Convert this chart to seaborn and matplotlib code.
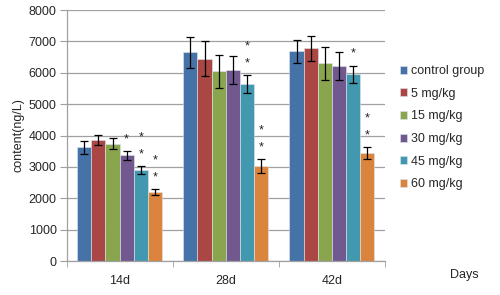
import numpy as np
import pandas as pd
import matplotlib
matplotlib.use("Agg")
import matplotlib.pyplot as plt
import seaborn as sns

# datos
days = ["14d", "28d", "42d"]
groups = ["control group", "5 mg/kg", "15 mg/kg", "30 mg/kg", "45 mg/kg", "60 mg/kg"]
colors = ["#4572A7", "#AA4643", "#89A54E", "#71588F", "#4198AF", "#DB843D"]

mean_14d = [3630, 3850, 3740, 3370, 2890, 2190]
mean_28d = [6650, 6450, 6050, 6100, 5630, 3035]
mean_42d = [6680, 6780, 6300, 6220, 5950, 3440]

err_14d = [210, 160, 180, 150, 130, 100]
err_28d = [500, 560, 525, 445, 285, 220]
err_42d = [380, 400, 520, 440, 280, 185]

# número de asteriscos sobre cada barra
stars_14d = [0, 0, 0, 1, 2, 2]
stars_28d = [0, 0, 0, 0, 2, 2]
stars_42d = [0, 0, 0, 0, 1, 2]

means = [mean_14d, mean_28d, mean_42d]
errs = [err_14d, err_28d, err_42d]
stars = [stars_14d, stars_28d, stars_42d]

rows = []
for d, m, e, s in zip(days, means, errs, stars):
    for g, mv, ev, sv in zip(groups, m, e, s):
        rows.append({"day": d, "group": g, "content": mv, "err": ev, "stars": sv})
df = pd.DataFrame(rows)

sns.set_style("white")
plt.rcParams["font.family"] = ["Liberation Sans", "DejaVu Sans"]

fig = plt.figure(figsize=(5, 2.95), dpi=100)
ax = fig.add_axes([0.133, 0.115, 0.637, 0.851])

sns.barplot(data=df, x="day", y="content", hue="group", hue_order=groups,
            palette=colors, errorbar=None, width=0.8, ax=ax,
            edgecolor="#dfe6ee", linewidth=0.4, saturation=1)

# barras de error y asteriscos
for cont, g in zip(ax.containers, groups):
    sub = df[df["group"] == g].set_index("day").loc[days]
    for bar, (_, r) in zip(cont, sub.iterrows()):
        xc = bar.get_x() + bar.get_width() / 2
        ax.errorbar(xc, r["content"], yerr=r["err"], fmt="none",
                    ecolor="black", elinewidth=0.9, capsize=2.8, capthick=0.9)
        top = r["content"] + r["err"]
        for k in range(int(r["stars"])):
            ax.text(xc, top + 180 + k * 550, "*", ha="center", va="bottom",
                    fontsize=9, color="#222222")

ax.set_ylim(0, 8000)
ax.set_xlim(-0.5, 2.5)
ax.set_yticks(np.arange(0, 8001, 1000))
ax.yaxis.grid(True, color="#a0a0a0", linewidth=0.9)
ax.set_axisbelow(True)
ax.set_xticks([0, 1, 2])
ax.set_xticklabels(days)
ax.set_xticks([-0.5, 0.5, 1.5, 2.5], minor=True)
ax.tick_params(axis="x", which="major", length=0, labelsize=9, pad=10)
ax.tick_params(axis="x", which="minor", length=4, color="#a0a0a0", direction="out", bottom=True)
ax.tick_params(axis="y", length=5, color="#a0a0a0", labelsize=9, left=True, direction="out", pad=2)

for side in ["top", "right"]:
    ax.spines[side].set_visible(False)
for side in ["left", "bottom"]:
    ax.spines[side].set_color("#a0a0a0")
    ax.spines[side].set_linewidth(0.9)

ax.set_xlabel("")
ax.set_ylabel("content(ng/L)", fontsize=9, labelpad=3)
fig.text(0.90, 0.068, "Days", fontsize=9, va="center")

leg = ax.legend(loc="upper left", bbox_to_anchor=(1.03, 0.80), frameon=False,
                fontsize=9, handlelength=0.6, handleheight=0.6, handletextpad=0.3,
                labelspacing=0.85, borderaxespad=0)

fig.savefig("out.png", dpi=100)
